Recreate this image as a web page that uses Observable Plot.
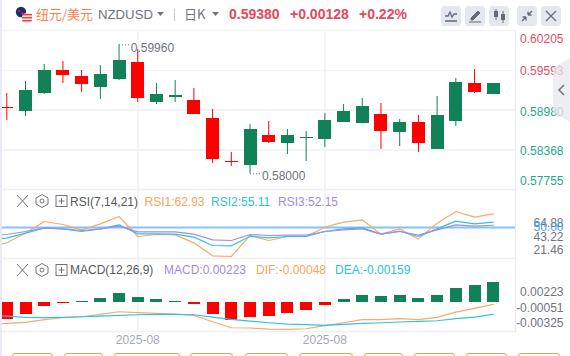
<!DOCTYPE html>
<html><head><meta charset="utf-8">
<script src="https://cdn.jsdelivr.net/npm/d3@7"></script>
<script src="https://cdn.jsdelivr.net/npm/@observablehq/plot@0.6"></script>
<style>
html,body{margin:0;padding:0;background:#fff;}
#page{position:relative;width:570px;height:356px;overflow:hidden;background:#fff;font-family:"Liberation Sans",Arial,"Noto Sans CJK SC",sans-serif;}
#page svg{position:absolute;display:block;}
.t{position:absolute;white-space:nowrap;line-height:16px;height:16px;}
.btn{position:absolute;top:6px;width:20px;height:20px;border-radius:4px;background:#e5e7ef;}
.pill{position:absolute;top:353px;height:10px;border:1px solid #dfa44f;border-radius:3px;box-sizing:border-box;}
</style></head><body>
<div id="page"></div>
<script>
const days   = d3.range(27);
const opens  = [.59022,.58960,.59238,.59594,.59501,.59331,.59455,.59718,.59099,.59176,.59130,.58851,.58191,.58124,.58589,.58465,.58547,.58527,.58790,.58774,.58913,.58635,.58790,.58372,.58805,.59393,.59223];
const closes = [.59006,.59285,.59594,.59517,.59377,.59532,.59749,.59161,.59223,.59207,.58913,.58217,.58176,.58681,.58480,.58589,.58563,.58821,.58960,.59037,.58650,.58790,.58465,.58898,.59408,.59254,.59393];
const highs  = [.59238,.59424,.59687,.59733,.59594,.59671,.59991,.59914,.59393,.59439,.59316,.58991,.58326,.58759,.58805,.58681,.58650,.58929,.59068,.59161,.59084,.58836,.58898,.59192,.59470,.59609,.59393];
const lows   = [.58821,.58882,.59223,.59393,.59254,.59145,.59439,.59099,.59068,.59099,.58913,.58155,.58109,.57996,.58465,.58295,.58186,.58403,.58790,.58774,.58372,.58418,.58326,.58372,.58728,.59238,.59223];
// Indicator series start one day before the first visible candle
const lineDays = d3.range(-1,27);
const rsi1 = [31.27,35.40,44.60,55.71,52.86,47.78,53.49,60.48,41.43,43.33,43.02,35.40,23.02,22.38,42.38,37.62,41.43,41.43,50.32,55.08,57.30,43.65,48.73,38.89,54.13,65.24,59.84,62.93];
const rsi2 = [39.21,39.84,44.60,49.37,48.73,46.19,48.73,52.54,43.97,43.97,43.65,40.79,32.86,32.54,41.75,40.16,41.43,41.43,46.19,48.73,49.68,43.65,46.51,41.43,48.73,56.03,53.49,55.11];
const rsi3 = [42.38,43.33,46.19,49.68,48.73,47.14,48.73,51.27,45.87,45.87,45.87,43.65,38.25,37.62,43.33,42.38,42.70,42.70,46.19,47.78,48.73,43.65,46.19,42.70,47.78,52.54,51.27,52.15];
const macdBars = [-.00190,-.00134,-.00045,-.00011,.00011,.00045,.00100,.00056,.00033,.00011,-.00022,-.00134,-.00201,-.00167,-.00156,-.00123,-.00089,-.00033,.00033,.00078,.00067,.00078,.00045,.00078,.00156,.00190,.00223];
const dif = [-.00242,-.00234,-.00223,-.00193,-.00171,-.00160,-.00134,-.00104,-.00115,-.00123,-.00130,-.00145,-.00216,-.00283,-.00286,-.00298,-.00301,-.00294,-.00260,-.00227,-.00193,-.00193,-.00182,-.00193,-.00167,-.00108,-.00067,-.00022];
const dea = [-.00149,-.00153,-.00167,-.00171,-.00167,-.00160,-.00153,-.00145,-.00138,-.00134,-.00134,-.00138,-.00164,-.00190,-.00208,-.00227,-.00242,-.00249,-.00257,-.00246,-.00234,-.00227,-.00219,-.00212,-.00205,-.00182,-.00164,-.00134];
const priceGrid = [.59593,.58980,.58368];
const priceLabels = [[.60205,"0.60205","#e0505f",7.8],[.59593,"0.59593","#e0505f",0.5],[.58980,"0.58980","#1fa88c",1.6],[.58368,"0.58368","#1fa88c",1.8],[.57755,"0.57755","#1fa88c",-8.7]];
const rsiLabels = [[64.88,"64.88","#70747f",11.3],[50,"50.00","#3f9cf0",0],[43.22,"43.22","#70747f",2.6],[21.46,"21.46","#70747f",-7.3]];
const macdLabels = [[.00223,"0.00223","#70747f",9.7],[-.00051,"-0.00051","#70747f",.7],[-.00325,"-0.00325","#70747f",-8.7]];
const monthTicks = [7,17];
const monthLabel = "2025-08";
const GREEN="#118257", RED="#ff0000", GRID="#f3f4f7", ORANGE="#f7aa6c", CYAN="#2fc4df", PURPLE="#a68be8";

const xScale = {type:"linear",domain:[-0.2298,27.19],axis:null};
const candles = days.map(i=>({i,o:opens[i],c:closes[i],h:highs[i],l:lows[i]}));
const colorOf = d=>d.c>=d.o?GREEN:RED;
const lab = ([v,s,col,dy])=>Plot.text([v],{y:d=>d,text:()=>s,frameAnchor:"right",dx:48,dy,textAnchor:"end",fill:col,fontSize:12,fontFamily:"Liberation Sans"});
const grids = Plot.ruleX(monthTicks,{stroke:GRID,strokeWidth:1.5,shapeRendering:"crispEdges"});
const base = {width:570,marginLeft:2,marginRight:55,x:xScale,style:{background:"transparent",overflow:"visible"}};
const page = document.getElementById("page");
const place=(svg,top)=>{svg.style.left="0";svg.style.top=top+"px";page.appendChild(svg);};

const main = Plot.plot({...base,height:190,marginTop:30,marginBottom:1,
  y:{domain:[.57753,.60213],axis:null},
  marks:[
    Plot.ruleY(priceGrid,{stroke:GRID,strokeWidth:1.5,shapeRendering:"crispEdges"}),
    Plot.frame({anchor:"top",stroke:GRID,strokeWidth:1.5}),
    Plot.frame({anchor:"bottom",stroke:"#eff0f4",strokeWidth:1.5}),
    Plot.frame({anchor:"right",stroke:"#e9ebf0"}),
    grids,
    Plot.ruleX(candles,{x:"i",y1:"l",y2:"h",stroke:colorOf,strokeWidth:1,clip:true}),
    Plot.ruleX(candles,{x:"i",y1:"o",y2:"c",stroke:colorOf,strokeWidth:13,clip:true,shapeRendering:"crispEdges"}),
    Plot.link([candles[6]],{x1:"i",x2:d=>d.i+.58,y1:"h",y2:"h",stroke:"#70747f",strokeDasharray:"1 2",strokeWidth:1}),
    Plot.link([candles[13]],{x1:"i",x2:d=>d.i+.58,y1:"l",y2:"l",stroke:"#70747f",strokeDasharray:"1 2",strokeWidth:1}),
    Plot.text([candles[6]],{x:"i",y:"h",text:()=>"0.59960",dx:11.7,dy:3.4,textAnchor:"start",fill:"#70747f",fontSize:12,fontFamily:"Liberation Sans"}),
    Plot.text([candles[13]],{x:"i",y:"l",text:()=>"0.58000",dx:12,dy:2.5,textAnchor:"start",fill:"#70747f",fontSize:12,fontFamily:"Liberation Sans"}),
    ...priceLabels.map(lab)
  ]});
place(main,0);

const row = (arr)=>lineDays.map((d,k)=>({d,v:arr[k]}));
const thin = (arr,col)=>Plot.line(row(arr),{x:"d",y:"v",stroke:col,strokeWidth:1.2,clip:true});
const rsi = Plot.plot({...base,height:69,marginTop:0,marginBottom:0,
  y:{domain:[20.48,86.19],axis:null},
  marks:[
    Plot.frame({anchor:"bottom",stroke:"#eff0f4",strokeWidth:1.5}),
    Plot.frame({anchor:"right",stroke:"#e9ebf0"}),
    grids,
    Plot.ruleY([50],{stroke:"#83c3f5",strokeWidth:2}),
    thin(rsi1,ORANGE),thin(rsi2,CYAN),thin(rsi3,PURPLE),
    ...rsiLabels.map(lab)
  ]});
place(rsi,189);

const macd = Plot.plot({...base,height:98,marginTop:0,marginBottom:25,
  y:{domain:[-.00325,.00491],axis:null},
  marks:[
    Plot.frame({anchor:"bottom",stroke:"#eff0f4",strokeWidth:1.5}),
    Plot.frame({anchor:"right",stroke:"#e9ebf0"}),
    grids,
    Plot.ruleX(days,{x:d=>d,y1:0,y2:d=>macdBars[d],stroke:d=>macdBars[d]>=0?GREEN:RED,strokeWidth:12,clip:true,shapeRendering:"crispEdges"}),
    thin(dif,ORANGE),thin(dea,CYAN),
    Plot.axisX(monthTicks,{anchor:"bottom",tickSize:0,tickPadding:4,tickFormat:()=>monthLabel,fill:"#a5a8b4",fontSize:12,fontFamily:"Liberation Sans",label:null}),
    ...macdLabels.map(lab)
  ]});
place(macd,258);

// ---- HTML chrome: header, legends, buttons ----
const add=(html)=>page.insertAdjacentHTML("beforeend",html);
const text=(x,y,s,col,size=12,extra="")=>add(`<div class="t" style="left:${x}px;top:${y-8}px;color:${col};font-size:${size}px;${extra}">${s}</div>`);
add(`<div style="position:absolute;left:0;top:0;width:2px;height:356px;background:#e8ebf3"></div>`);
// flags
add(`<svg style="left:15px;top:6px" width="18" height="18" viewBox="0 0 18 18">
<circle cx="6" cy="6" r="5.2" fill="#1d2f6f"/><circle cx="4" cy="5" r=".9" fill="#d33"/><circle cx="7.5" cy="7" r=".9" fill="#d33"/>
<circle cx="12" cy="12" r="5.2" fill="#f3dcdc"/><rect x="7" y="8" width="10" height="1.4" fill="#d44"/><rect x="6.9" y="11" width="10.2" height="1.4" fill="#d44"/><rect x="7.2" y="14" width="9.6" height="1.4" fill="#d44"/></svg>`);
text(36,14,"纽元/美元","#ff7f50",13,"font-family:'Noto Sans CJK SC'");
text(98,15,"NZDUSD","#70747f",13.2);
const caret=(x)=>add(`<svg style="left:${x}px;top:12px" width="8" height="5"><path d="M0 0H7L3.5 4Z" fill="#70747f"/></svg>`);
caret(157);
add(`<div style="position:absolute;left:174px;top:9px;width:1px;height:12px;background:#c9ccd6"></div>`);
text(184,13.5,"日K","#70747f",13,"font-family:'Noto Sans CJK SC'");
caret(212);
text(229,13.5,"0.59380","#df4a5c",14,"font-weight:bold");
text(290,13.5,"+0.00128","#df4a5c",14,"font-weight:bold");
text(359,13.5,"+0.22%","#df4a5c",14,"font-weight:bold");
const btnIcons=[
 `<path d="M4 10H7L9 6L11 11L13 8H16M4 15H16" fill="none" stroke="#666b78" stroke-width="1.3"/>`,
 `<path d="M6 12L13 5L15 7L8 14H6ZM4 16H16" fill="#666b78" stroke="#666b78" stroke-width="1"/>`,
 `<path d="M7 3V14M14 5V17" stroke="#666b78"/><rect x="5" y="5" width="4" height="6" fill="#666b78"/><rect x="12" y="8" width="4" height="6" fill="#666b78"/>`,
 `<path d="M5 15L9 11M9 11V14.5M9 11H5.5M15 5L11 9M11 9V5.5M11 9H14.5" fill="none" stroke="#666b78" stroke-width="1.3"/>`,
 `<path d="M5 5L15 15M15 5L5 15" stroke="#666b78" stroke-width="1.2"/>`];
[441,465,489,517,541].forEach((x,k)=>add(`<div class="btn" style="left:${x}px"><svg style="left:0;top:0" width="20" height="20">${btnIcons[k]}</svg></div>`));
// side tab, translucent over the price labels
add(`<svg style="left:553px;top:58px" width="17" height="64"><path d="M17 0V64L0 54V10Z" fill="#e6e8ee" fill-opacity=".75"/><path d="M11 27L6 32L11 37" fill="none" stroke="#70747f" stroke-width="1.5"/></svg>`);
// legend rows
const tools=(y)=>add(`<svg style="left:15px;top:${y-8}px" width="54" height="16">
<path d="M2 2L13 14M13 2L2 14" stroke="#70747f" stroke-width="1"/>
<path d="M27 1.5L33 5V11L27 14.5L21 11V5Z" fill="none" stroke="#70747f"/><circle cx="27" cy="8" r="2" fill="none" stroke="#70747f"/>
<rect x="41" y="2.5" width="11" height="11" fill="none" stroke="#70747f"/><path d="M43.5 8H49.5M46.5 5V11" stroke="#70747f"/></svg>`);
tools(201); tools(269.5);
text(70,201.5,"RSI(7,14,21)","#55585f");
text(144.5,201.5,"RSI1:62.93","#f9a55c");
text(211,201.5,"RSI2:55.11","#2cc3e0");
text(278,201.5,"RSI3:52.15","#a58ae6");
text(70,270,"MACD(12,26,9)","#55585f");
text(164,270,"MACD:0.00223","#a58ae6");
text(256,270,"DIF:-0.00048","#f9a55c");
text(335,270,"DEA:-0.00159","#2cc3e0");
// bottom buttons, cut off by the window
[[12,53],[64,103],[114,180],[190,233],[245,288],[299,353],[364,403],[414,455],[466,507],[518,560]].forEach(([a,b])=>add(`<div class="pill" style="left:${a}px;width:${b-a}px"></div>`));
</script>
</body></html>
